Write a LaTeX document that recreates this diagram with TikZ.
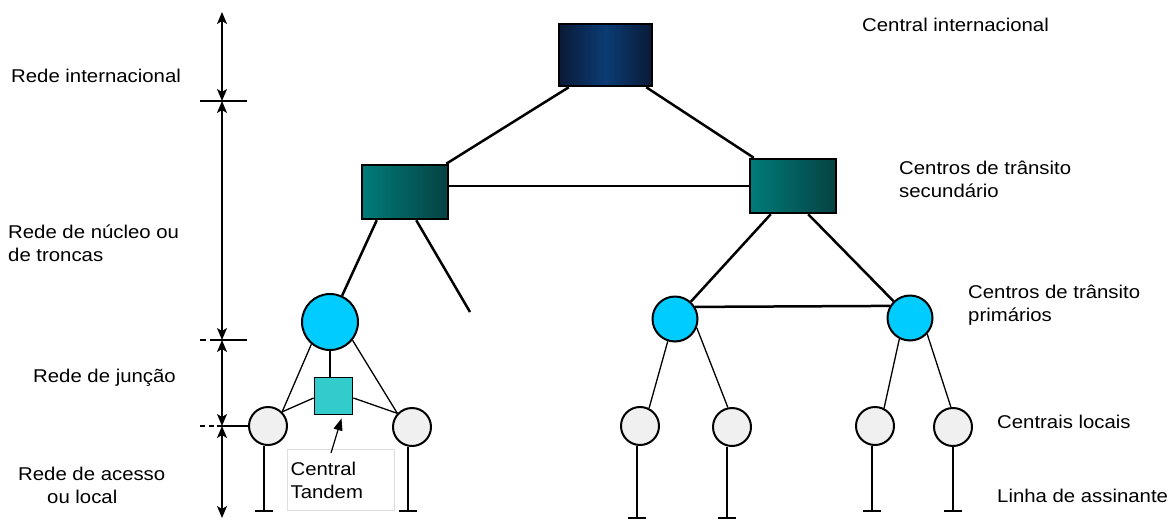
\documentclass[tikz,border=0pt]{standalone}
\usepackage{fontspec}
\setmainfont{Liberation Sans}[FakeStretch=1.1]
\usetikzlibrary{arrows.meta}
\definecolor{navyedge}{HTML}{0A1A38}
\definecolor{navymid}{HTML}{0B3C74}
\definecolor{tealL}{HTML}{007C7A}
\definecolor{tealR}{HTML}{064242}
\definecolor{primblue}{HTML}{00CCFF}
\definecolor{localgray}{HTML}{F0F0F0}
\definecolor{tandemcyan}{HTML}{33CCCC}
\definecolor{labelframe}{HTML}{DDDDDD}
\pgfdeclarelayer{paper}
\pgfdeclarelayer{bg}
\pgfsetlayers{paper,bg,main}
\begin{document}
\begin{tikzpicture}[x=1pt,y=-1pt,
  every node/.style={font=\fontsize{18.5}{23}\selectfont},
  lbl/.style={inner sep=0pt, anchor=base west},
  intl/.style={draw=black, line width=2.5pt, minimum width=93pt, minimum height=62pt,
    left color=navyedge, right color=navyedge, middle color=navymid},
  transit/.style={draw=black, line width=2.5pt, minimum width=86pt, minimum height=54pt,
    left color=tealL, right color=tealR},
  prim/.style={circle, draw=black, line width=2pt, fill=primblue, inner sep=0pt, minimum size=45pt},
  local/.style={circle, draw=black, line width=2pt, fill=localgray, inner sep=0pt, minimum size=38pt},
  tandemsq/.style={draw=black, line width=1.8pt, fill=tandemcyan, minimum width=38pt, minimum height=37pt, inner sep=0pt},
  trunk/.style={line width=2.5pt},
  branch/.style={line width=1.3pt},
  vline/.style={line width=1.3pt, {Stealth[length=12pt,width=10pt,inset=3pt]}-{Stealth[length=12pt,width=10pt,inset=3pt]}},
  tickline/.style={line width=1.8pt},
]
\begin{pgfonlayer}{paper}
  \fill[white] (0,0) rectangle (1171,520);
\end{pgfonlayer}
\useasboundingbox (0,0) rectangle (1171,520);

% exchanges
\node[intl] (ci) at (605.5,55) {};
\node[transit] (s1) at (405,192) {};
\node[transit] (s2) at (793,186) {};
\node[prim, minimum size=56pt] (P) at (330,322) {};
\node[prim] (L) at (675,319) {};
\node[prim] (R) at (910,318) {};
\node[tandemsq] (T) at (333.5,396) {};
\node[local] (E) at (268,426) {};
\node[local] (F) at (412,427) {};
\node[local] (A) at (640,426) {};
\node[local] (B) at (732,427) {};
\node[local] (C) at (875,426) {};
\node[local] (D) at (953,427) {};

% label frame for the tandem exchange
\node[draw=labelframe, line width=1.2pt, anchor=north west, minimum width=107pt,
  minimum height=61pt, text width=101pt, inner xsep=3pt, align=left] (tb) at (287,449) {Central\\Tandem};

% free ends
\coordinate (dangle) at (470,312);
\coordinate (tE) at (264,511);
\coordinate (tF) at (408,511);
\coordinate (tA) at (637,518);
\coordinate (tB) at (727,518);
\coordinate (tC) at (872,511);
\coordinate (tD) at (953,511);

% level scale
\coordinate (v0) at (222,12);
\coordinate (v1) at (222,101);
\coordinate (v2) at (222,340);
\coordinate (v3) at (222,426);
\coordinate (v4) at (222,518);

\begin{pgfonlayer}{bg}
  % trunk network
  \draw[trunk] ([xshift=11pt]ci.south west) -- ([xshift=-3pt]s1.north east);
  \draw[trunk] ([xshift=-7pt]ci.south east) -- ([xshift=5pt]s2.north west);
  \draw[trunk] (s1.east |- s2.west) -- (s2.west);
  \draw[trunk] ([xshift=16pt]s1.south west) -- (P);
  \draw[trunk] ([xshift=-33pt]s1.south east) -- (dangle);
  \draw[trunk] ([xshift=22pt]s2.south west) -- (L);
  \draw[trunk] ([xshift=-29pt]s2.south east) -- (R);
  \draw[trunk] (L.31) -- (R.149);
  \draw[trunk] (P.south) -- (P.south |- T.north);
  % junction network
  \draw[branch] (P.-130) -- (E.45);
  \draw[branch] (P.-39) -- (F.137);
  \draw[branch] ([yshift=-2pt]T.west) -- (E.45);
  \draw[branch] ([yshift=-2pt]T.east) -- (F.137);
  \draw[branch] (L.-108) -- (A.63);
  \draw[branch] (L.-22) -- (B.102);
  \draw[branch] (R.-117) -- (C.63);
  \draw[branch] (R.-43) -- (D.96);
  % subscriber lines
  \foreach \n in {E,F,A,B,C,D}{
    \draw[branch] (\n.south -| t\n) -- (t\n);
    \draw[tickline] ([xshift=-9pt]t\n) -- ([xshift=9pt]t\n);
  }
\end{pgfonlayer}

% tandem pointer
\draw[line width=1.2pt, -{Triangle[length=12pt,width=9pt]}] ([xshift=44pt,yshift=-4pt]tb.north west) -- ([xshift=8pt,yshift=-3pt]T.south);

% level scale with separators
\draw[vline] (v0) -- (v1);
\draw[vline] (v1) -- (v2);
\draw[vline] (v2) -- (v3);
\draw[vline] (v3) -- (v4);
\draw[tickline] ([xshift=-22pt]v1) -- ([xshift=25pt]v1);
\draw[tickline] ([xshift=-22pt]v2) -- ([xshift=-16pt]v2);
\draw[tickline] ([xshift=-12pt]v2) -- ([xshift=25pt]v2);
\draw[tickline] ([xshift=-22pt]v3) -- ([xshift=-17pt]v3);
\draw[tickline] ([xshift=-13pt]v3) -- ([xshift=-8pt]v3);
\draw[tickline] ([xshift=-5pt]v3) -- (E.west);

% level names
\node[lbl] (n1) at (11,82) {Rede internacional};
\node[lbl] (n2) at (8,238.5) {Rede de núcleo ou};
\node[lbl] (n3) at (8,261.5) {de troncas};
\node[lbl] (n4) at (33,382) {Rede de junção};
\node[lbl] (n5) at (18,480) {Rede de acesso};
\node[lbl] (n6) at (47,503) {ou local};

% element names
\node[lbl] (m1) at (862,31) {Central internacional};
\node[lbl] (m2) at (899,174) {Centros de trânsito};
\node[lbl] (m3) at (899,197) {secundário};
\node[lbl] (m4) at (968,298) {Centros de trânsito};
\node[lbl] (m5) at (968,321) {primários};
\node[lbl] (m6) at (997,428) {Centrais locais};
\node[lbl] (m7) at (997,502) {Linha de assinante};
\end{tikzpicture}
\end{document}
